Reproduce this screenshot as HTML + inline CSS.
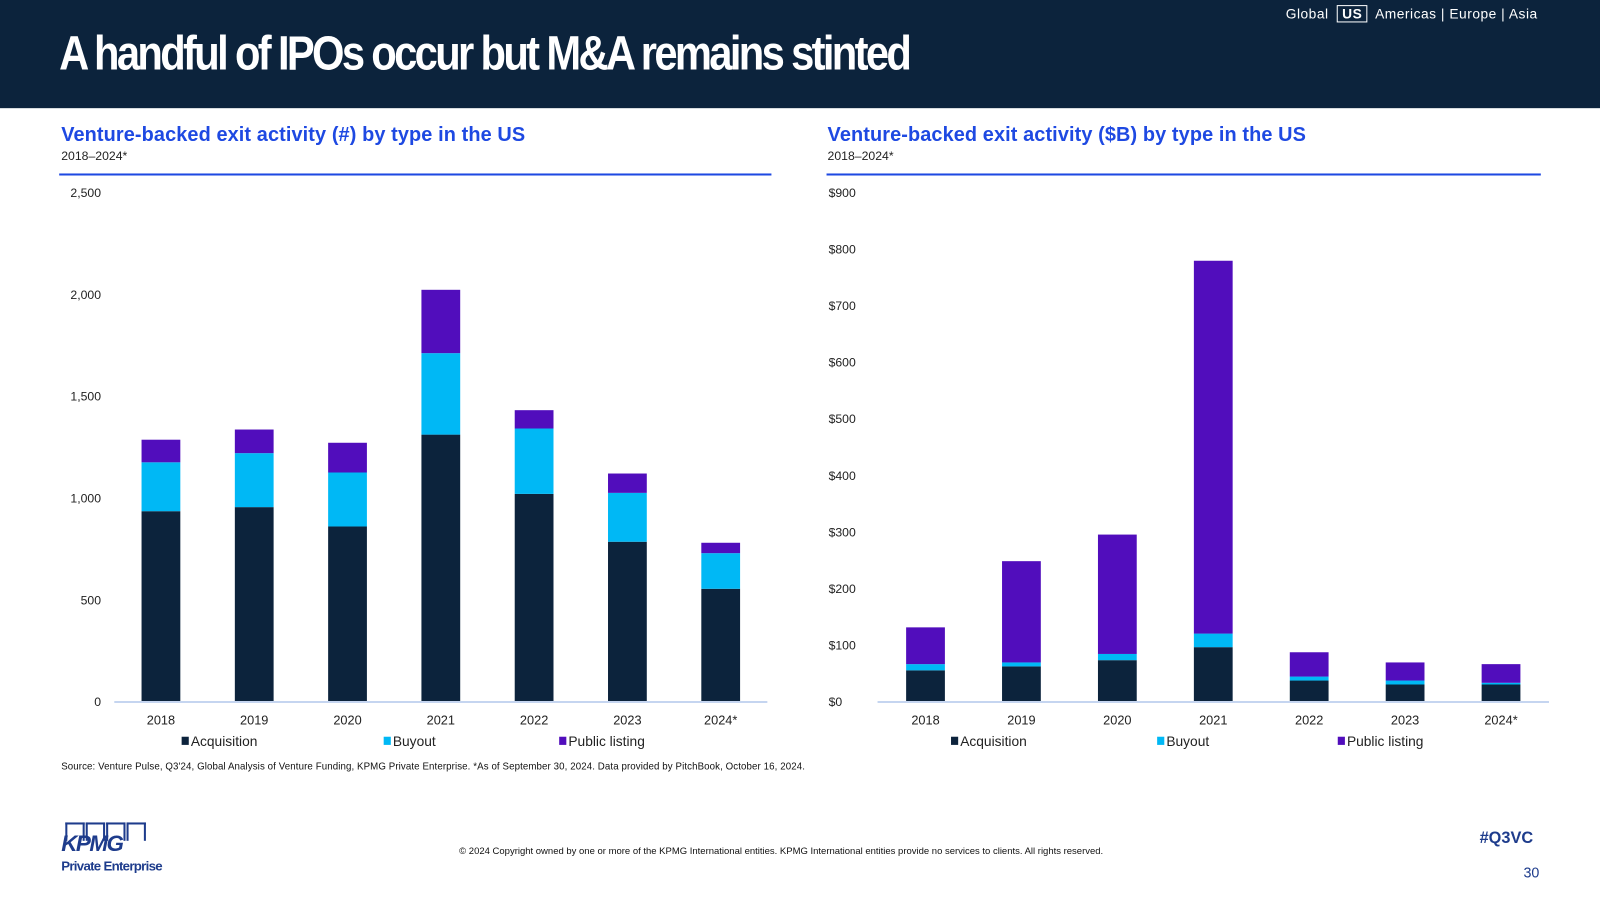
<!DOCTYPE html>
<html><head><meta charset="utf-8">
<style>
html,body{margin:0;padding:0;width:1600px;height:900px;overflow:hidden;background:#fff;font-family:"Liberation Sans",sans-serif;}
#wrap{position:absolute;left:0;top:0;width:1568px;height:882px;transform:scale(1.020408);transform-origin:0 0;}
.abs{position:absolute;}
</style></head><body>
<div id="wrap">
<div class="abs" style="left:0;top:0;width:1568px;height:106px;background:#0c233c;"></div>
<div class="abs" style="left:58px;top:24px;color:#fff;font-size:47px;font-weight:bold;letter-spacing:-3px;transform:scaleX(0.87);transform-origin:0 0;white-space:nowrap;">A handful of IPOs occur but M&amp;A remains stinted</div>
<div class="abs" style="left:1260px;top:6px;color:#fff;font-size:13.5px;white-space:nowrap;letter-spacing:0.5px;">
<span>Global</span>
<span style="border:1px solid #fff;padding:0 4px;font-weight:bold;margin:0 4px;">US</span>
<span>Americas</span> | <span>Europe</span> | <span>Asia</span></div>

<div class="abs" style="left:60px;top:121px;color:#1e49e2;font-size:19.5px;font-weight:bold;letter-spacing:0.1px;">Venture-backed exit activity (#) by type in the US</div>
<div class="abs" style="left:60px;top:146px;color:#222;font-size:12px;">2018–2024*</div>
<div class="abs" style="left:58px;top:170px;width:698px;height:2px;background:#1e49e2;"></div>

<div class="abs" style="left:811px;top:121px;color:#1e49e2;font-size:19.5px;font-weight:bold;letter-spacing:0.1px;">Venture-backed exit activity ($B) by type in the US</div>
<div class="abs" style="left:811px;top:146px;color:#222;font-size:12px;">2018–2024*</div>
<div class="abs" style="left:810px;top:170px;width:700px;height:2px;background:#1e49e2;"></div>

<svg class="abs" id="chart" style="left:0;top:0;" width="1568" height="882"></svg>

<div class="abs" style="left:60px;top:746px;font-size:9.5px;color:#111;letter-spacing:0.1px;white-space:nowrap;">Source: Venture Pulse, Q3'24, Global Analysis of Venture Funding, KPMG Private Enterprise. *As of September 30, 2024. Data provided by PitchBook, October 16, 2024.</div>
<div class="abs" style="left:60px;top:806px;color:#1e3c8c;">
 <div style="display:flex;gap:1px;margin-left:4px;"><div style="width:15px;height:16px;border:2px solid #1e3c8c;border-bottom:none"></div><div style="width:15px;height:16px;border:2px solid #1e3c8c;border-bottom:none"></div><div style="width:15px;height:16px;border:2px solid #1e3c8c;border-bottom:none"></div><div style="width:15px;height:16px;border:2px solid #1e3c8c;border-bottom:none"></div></div>
 <div style="font-size:22px;font-weight:bold;font-style:italic;margin-top:-10px;letter-spacing:-1.5px;">KPMG</div>
 <div style="font-size:13px;font-weight:bold;margin-top:1px;letter-spacing:-0.7px;">Private Enterprise</div>
</div>
<div class="abs" style="left:450px;top:829px;font-size:9.3px;color:#111;white-space:nowrap;">© 2024 Copyright owned by one or more of the KPMG International entities. KPMG International entities provide no services to clients. All rights reserved.</div>
<div class="abs" style="left:1450px;top:813px;font-size:16px;font-weight:bold;color:#1e3c8c;">#Q3VC</div>
<div class="abs" style="left:1493px;top:847px;font-size:14px;color:#1e3c8c;">30</div>
</div>
<script>
const years=["2018","2019","2020","2021","2022","2023","2024*"];
const countAcq=[937,957,862,1313,1022,787,556];
const countBuy=[240,265,265,400,321,240,175];
const countPub=[111,116,146,311,90,95,51];
const countTicks=[0,500,1000,1500,2000,2500];
const countTickLabels=["0","500","1,000","1,500","2,000","2,500"];
const valAcq=[56,63,74,97,38,31,31];
const valBuy=[11,7,11,24,7,7,3];
const valPub=[65,179,211,659,43,32,33];
const valTicks=[0,100,200,300,400,500,600,700,800,900];
const valTickLabels=["$0","$100","$200","$300","$400","$500","$600","$700","$800","$900"];
const seriesNames=["Acquisition","Buyout","Public listing"];
const colors=["#0c233c","#00b8f5","#510dbc"];
const svg=document.getElementById('chart');
const NS="http://www.w3.org/2000/svg";
function mk(t,a){const e=document.createElementNS(NS,t);for(const k in a)e.setAttribute(k,a[k]);svg.appendChild(e);return e;}
function drawChart(cfg){
 const y=v=>cfg.y0-(v/cfg.max)*(cfg.y0-cfg.yTop);
 const step=(cfg.x1-cfg.x0)/years.length;
 const x=i=>cfg.x0+step*(i+0.5);
 cfg.ticks.forEach((t,i)=>{const e=mk('text',{x:cfg.labelX,y:y(t)+4,'font-size':12,fill:'#222','text-anchor':cfg.anchor});e.textContent=cfg.tickLabels[i];
  
  });
 const series=[cfg.a,cfg.b,cfg.c];
 years.forEach((yr,i)=>{let base=0;
  series.forEach((s,si)=>{const r=mk('rect',{x:x(i)-19,width:38,y:y(base+s[i]),height:y(base)-y(base+s[i]),fill:colors[si]});
   
   
   base+=s[i];});
  const t=mk('text',{x:x(i),y:cfg.y0+22,'font-size':12.5,fill:'#222','text-anchor':'middle'});t.textContent=yr;
  
  
 });
 const ax=mk('line',{x1:cfg.x0,x2:cfg.x1,y1:cfg.y0,y2:cfg.y0,stroke:'#c5d5f0','stroke-width':2});
 
 
 seriesNames.forEach((n,si)=>{const lx=cfg.legendX[si];
  const r=mk('rect',{x:lx,y:cfg.y0+34,width:7,height:8,fill:colors[si]});
  
  
  const t=mk('text',{x:lx+9,y:cfg.y0+43,'font-size':13.5,fill:'#222'});t.textContent=n;
  
  
 });
}
drawChart({prefix:'count',x0:112,x1:752,y0:688,yTop:189,max:2500,ticks:countTicks,tickLabels:countTickLabels,labelX:99,anchor:'end',a:countAcq,b:countBuy,c:countPub,legendX:[178,376,548]});
drawChart({prefix:'value',x0:860,x1:1518,y0:688,yTop:189,max:900,ticks:valTicks,tickLabels:valTickLabels,labelX:812,anchor:'start',a:valAcq,b:valBuy,c:valPub,legendX:[932,1134,1311]});
</script>
</body></html>
